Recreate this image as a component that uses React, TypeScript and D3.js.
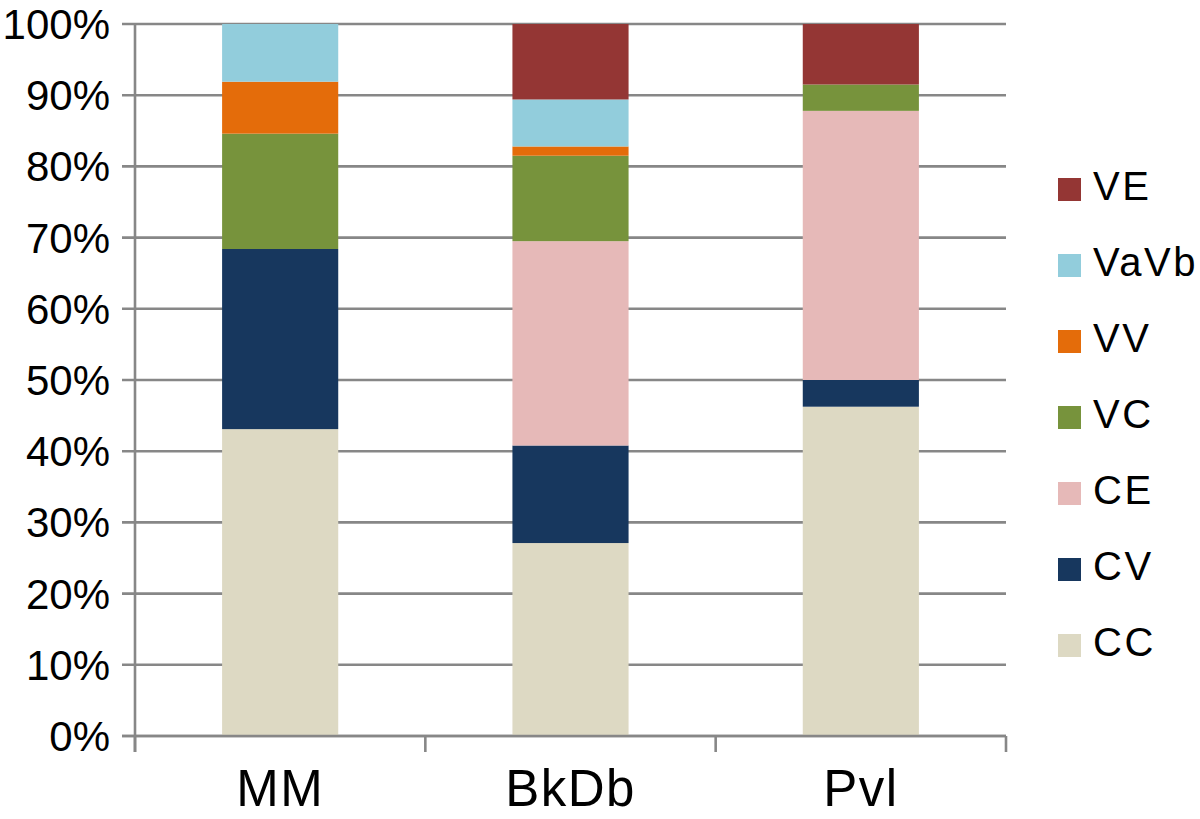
import React from "react";
import * as d3 from "d3";

const categories = ["MM", "BkDb", "Pvl"];
const seriesNames = ["CC", "CV", "CE", "VC", "VV", "VaVb", "VE"];
const CC = [43.1, 27.1, 46.25];
const CV = [25.3, 13.7, 3.75];
const CE = [0, 28.7, 37.8];
const VC = [16.2, 12.0, 3.7];
const VV = [7.3, 1.3, 0];
const VaVb = [8.1, 6.6, 0];
const VE = [0, 10.6, 8.5];
const seriesColors = ["#DDD9C3", "#17375E", "#E6B9B8", "#77933C", "#E46C0A", "#92CDDC", "#943634"];
const yTicks = [0, 0.1, 0.2, 0.3, 0.4, 0.5, 0.6, 0.7, 0.8, 0.9, 1.0];

const W = 1200;
const H = 819;
const left = 135;
const right = 1006;
const top = 24;
const bottom = 736;
const font = "'Liberation Sans', Arial, Helvetica, sans-serif";
const gridColor = "#878787";

export default function App() {
  const valuesBySeries = [CC, CV, CE, VC, VV, VaVb, VE];
  const rows = categories.map((c, i) => {
    const r: any = { cat: c };
    seriesNames.forEach((s, j) => (r[s] = valuesBySeries[j][i] / 100));
    return r;
  });
  const stack = d3.stack<any>().keys(seriesNames)(rows);
  const x = d3.scaleBand<string>().domain(categories).range([left, right]).paddingInner(0.6).paddingOuter(0.3);
  const y = d3.scaleLinear().domain([0, 1]).range([bottom, top]);
  const step = x.step();
  const catTicks = d3.range(categories.length + 1).map((i) => left + i * step);
  const fmt = d3.format(".0%");

  const legendItems = seriesNames.slice().reverse();
  const legendColors = seriesColors.slice().reverse();

  return (
    <svg width={W} height={H} style={{ position: "absolute", left: 0, top: 0, background: "#fff" }}>
      {yTicks.map((t) => (
        <line key={"g" + t} x1={122} x2={right} y1={y(t)} y2={y(t)} stroke={gridColor} strokeWidth={2.6} />
      ))}
      {stack.map((layer, j) => (
        <g key={layer.key} fill={seriesColors[j]}>
          {layer.map((d, i) => (
            <rect
              key={i}
              x={x(categories[i])}
              width={x.bandwidth()}
              y={y(d[1])}
              height={Math.max(0, y(d[0]) - y(d[1]))}
            />
          ))}
        </g>
      ))}
      <line x1={left} x2={left} y1={top} y2={752} stroke={gridColor} strokeWidth={2.6} />
      {catTicks.map((t, i) => (
        <line key={"xt" + i} x1={t} x2={t} y1={bottom} y2={752} stroke={gridColor} strokeWidth={2.6} />
      ))}
      <line x1={122} x2={right} y1={bottom} y2={bottom} stroke={gridColor} strokeWidth={2.6} />
      {yTicks.map((t) => (
        <text key={"yl" + t} x={110} y={y(t) + 15} textAnchor="end" fontFamily={font} fontSize={42} fill="#000">
          {fmt(t)}
        </text>
      ))}
      {categories.map((c) => (
        <text
          key={"xl" + c}
          x={(x(c) as number) + x.bandwidth() / 2}
          y={806}
          textAnchor="middle"
          fontFamily={font}
          fontSize={51}
          letterSpacing={1.5}
          fill="#000"
        >
          {c}
        </text>
      ))}
      {legendItems.map((s, i) => {
        const cy = 189 + i * 76;
        return (
          <g key={"lg" + s}>
            <rect x={1058} y={cy - 11} width={23} height={23} fill={legendColors[i]} />
            <text x={1093} y={cy + 11} fontFamily={font} fontSize={40} fill="#000" letterSpacing={2.5}>
              {s}
            </text>
          </g>
        );
      })}
    </svg>
  );
}
